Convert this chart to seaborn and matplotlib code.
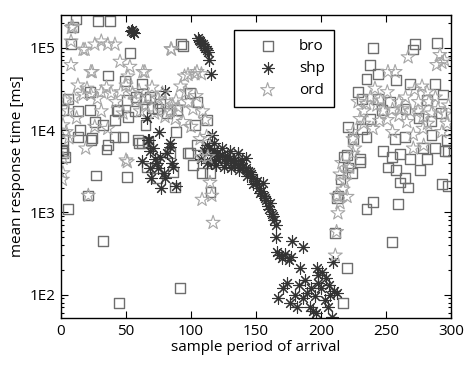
import numpy as np
import pandas as pd
import matplotlib
matplotlib.use("Agg")
import matplotlib.pyplot as plt
import seaborn as sns
from matplotlib.ticker import FixedLocator, FixedFormatter, LogLocator, NullFormatter

# ---------------- data ----------------
bro_x = [11.5, 28.5, 37.7, 9, 8, 53, 92, 94, 36, 49, 62, 22, 5.5, 1.5, 13, 22, 44, 41.5, 51.5, 57,
         64.5, 74.5, 65, 88.5, 14.6, 26, 23, 1.5, 1.5, 36, 41.5, 47.7, 59, 3, 67, 99, 105, 112, 103, 99,
         104.6, 101.5, 84, 62, 1.5, 35, 27, 51, 21, 5.5, 32, 44.6, 91.5, 66, 74, 86, 88, 98, 108.5, 114.6,
         115, 51, 58, 68.5, 76, 89, 81.5, 70, 43, 32, 24, 13, 1, 60,
         240, 272, 271, 289, 238, 244, 235, 258, 268.5, 287.7, 228.5, 231.5, 244, 281.5, 294, 247, 253, 238,
         221, 231.5, 224.6, 235, 257, 264.6, 285, 297, 295, 298, 220, 230, 247.7, 254.6, 261, 268.5, 278.5,
         287.7, 281.5, 251.5, 258, 276, 261, 267, 264.6, 293, 298, 240, 235, 259, 254.6, 220, 217, 213, 211,
         224, 218, 230, 212, 215, 221, 275, 285, 265, 292]
bro_y = [2.2e5, 2.1e5, 2.1e5, 1.8e5, 1.12e5, 8.6e4, 1.1e5, 1.05e5, 4.6e4, 3.9e4, 3.6e4, 2.9e4, 2.4e4, 1.77e4, 1.7e4, 1.77e4, 1.7e4, 1.33e4, 1.45e4, 1.7e4,
         2.4e4, 1.8e4, 1.15e4, 9.5e3, 1.0e4, 1.26e4, 7.6e3, 7.6e3, 5.8e3, 6.6e3, 8.3e3, 8.3e3, 7.6e3, 4.7e3, 7.2e3, 2.8e4, 2.2e4, 1.33e4, 1.15e4, 5.3e3,
         6.6e3, 3.8e3, 5.3e3, 7.0e3, 5.3e3, 5.8e3, 2.8e3, 2.7e3, 1.6e3, 1.1e3, 4.5e2, 7.9e1, 1.2e2, 3.5e3, 2.6e3, 3.1e3, 2.0e3, 5.3e3, 3.0e3, 3.0e3,
         1.75e3, 2.3e4, 2.5e4, 2.5e4, 2.1e4, 1.77e4, 1.6e4, 1.85e4, 1.77e4, 1.15e4, 8.0e3, 8.3e3, 5.5e3, 7.0e3,
         1.0e5, 1.1e5, 9.5e4, 1.15e5, 6.2e4, 4.8e4, 4.2e4, 4.1e4, 3.6e4, 3.6e4, 2.9e4, 2.4e4, 2.4e4, 2.3e4, 2.7e4, 1.77e4, 2.2e4, 1.37e4,
         1.1e4, 1.04e4, 7.8e3, 8.3e3, 7.8e3, 8.3e3, 8.8e3, 7.6e3, 5.5e3, 5.5e3, 5.0e3, 4.4e3, 5.5e3, 4.7e3, 5.1e3, 4.4e3, 6.0e3,
         6.0e3, 4.4e3, 3.5e3, 3.3e3, 3.3e3, 2.3e3, 2.0e3, 2.6e3, 2.2e3, 2.1e3, 1.35e3, 1.1e3, 1.27e3, 4.4e2, 2.1e2, 7.9e1, 1.6e3, 5.6e2,
         3.0e3, 4.7e3, 4.1e3, 1.5e3, 2.5e3, 3.5e3, 1.4e4, 1.3e4, 1.8e4, 1.6e4]

shp_x = [54, 55, 56, 54.5,
         105, 106, 107, 108, 109, 110, 111, 112, 113, 114, 115,
         80, 66, 75, 68, 84, 116, 118,
         68.5, 74.6, 86, 69, 80, 77, 88.5, 68.5, 76, 84, 81.5, 74, 67, 72, 79, 62, 71, 85,
         108, 110, 112, 114, 116, 118, 120, 122, 124, 126, 128, 130, 132, 134, 136, 138, 140, 142, 144,
         146, 148, 150, 152, 154, 156, 158, 160, 162, 164, 115, 121, 127, 133, 139, 145, 151, 157,
         112, 118, 124, 130, 136, 142, 119, 125, 131, 137, 143, 148, 153, 155, 159, 161, 163, 165,
         165.5, 178, 186, 166, 168, 170, 172, 175, 177, 174, 184, 167, 176, 181.5, 189, 191.5, 194, 198,
         198, 197, 209, 201, 204, 206, 210, 212, 205, 208.5, 171, 180, 183, 186, 188, 192, 195, 200, 203, 196, 207]
shp_y = [1.6e5, 1.55e5, 1.5e5, 1.65e5,
         1.3e5, 1.25e5, 1.2e5, 1.15e5, 1.1e5, 1.05e5, 1.0e5, 9.5e4, 9.0e4, 7.0e4, 4.8e4,
         3.0e4, 1.4e4, 9.6e3, 7.6e3, 7.0e3, 8.8e3, 7.0e3,
         3.5e3, 3.5e3, 3.6e3, 2.6e3, 2.6e3, 2.0e3, 2.1e3, 5.5e3, 4.7e3, 6.3e3, 5.3e3, 4.0e3, 7.6e3, 4.5e3, 3.0e3, 4.2e3, 6.0e3, 4.0e3,
         4.5e3, 5.5e3, 4.0e3, 6.0e3, 5.0e3, 4.2e3, 5.2e3, 4.8e3, 5.0e3, 4.5e3, 4.8e3, 4.6e3, 4.2e3, 4.0e3, 3.8e3, 3.9e3, 3.6e3, 3.5e3, 3.2e3,
         2.9e3, 2.6e3, 2.3e3, 2.0e3, 1.8e3, 1.6e3, 1.4e3, 1.1e3, 9.5e2, 8.0e2, 4.0e3, 4.4e3, 4.0e3, 4.2e3, 4.3e3, 3.1e3, 2.4e3, 1.5e3,
         6.5e3, 5.8e3, 6.0e3, 5.6e3, 5.2e3, 4.6e3, 3.8e3, 3.6e3, 3.5e3, 3.3e3, 2.8e3, 2.2e3, 1.7e3, 2.3e3, 1.2e3, 1.3e3, 9.0e2, 7.0e2,
         5.0e2, 4.5e2, 3.8e2, 3.3e2, 3.0e2, 2.8e2, 3.1e2, 2.6e2, 2.9e2, 1.4e2, 2.1e2, 9.0e1, 8.0e1, 7.0e1, 1.05e2, 7.0e1, 6.3e1, 1.75e2,
         1.4e2, 2.1e2, 2.5e2, 1.9e2, 1.6e2, 1.3e2, 1.1e2, 1.05e2, 7.0e1, 5.3e1, 1.2e2, 1.0e2, 1.3e2, 9.0e1, 1.5e2, 1.2e2, 9.5e1, 1.2e2, 8.5e1, 6.0e1, 1.0e2]

ord_x = [9, 8, 7.7, 18.5, 26, 31, 36, 41.5, 84.6, 7.7, 23, 45.4, 53, 51.5, 63, 95, 92, 13, 17, 23,
         31, 38.5, 46, 55, 57, 67, 74.6, 80, 86, 88.5, 96, 3, 5.4, 31, 47.7, 61, 72, 80, 88, 94,
         1.5, 36, 26, 4, 1.5, 50, 19, 1.5, 1, 51, 21, 108.5, 116, 117, 114.6, 113, 108, 103, 108, 101.5,
         109, 111, 107, 112, 10, 20, 28, 35, 42, 50, 60, 65, 70, 78, 84, 90, 98, 104, 100, 12,
         6, 24, 64.5, 97.7, 104.6, 85, 17,
         267, 291.5, 289, 295, 251.5, 257, 241.5, 251, 272, 277.7, 281.5, 228.5, 235, 243, 247.7, 255, 262,
         268.5, 274.6, 278.5, 285, 290, 295.4, 230, 251, 266, 224.6, 240, 255, 271, 278.5, 293, 224.6, 271,
         224.6, 214.6, 220, 217, 212, 220, 214.6, 213, 212, 211, 216, 222, 218, 226, 233, 238, 260, 265,
         283, 288, 298, 297, 260, 245, 282, 275, 246, 233, 293, 279]
ord_y = [1.8e5, 1.75e5, 1.2e5, 9.5e4, 1.1e5, 1.2e5, 1.1e5, 1.1e5, 9.7e4, 6.2e4, 5.1e4, 6.8e4, 5.9e4, 4.5e4, 5.1e4, 4.5e4, 3.4e4, 3.5e4, 2.7e4, 2.7e4,
         2.9e4, 2.8e4, 2.9e4, 2.8e4, 2.3e4, 2.5e4, 2.4e4, 2.2e4, 2.0e4, 2.3e4, 2.9e4, 2.3e4, 1.7e4, 1.7e4, 1.6e4, 1.7e4, 1.6e4, 1.45e4, 1.37e4, 1.26e4,
         1.15e4, 1.04e4, 1.1e4, 9.5e3, 4.5e3, 4.3e3, 6.0e3, 3.0e3, 2.5e3, 4.1e3, 1.6e3, 1.43e3, 1.6e3, 7.5e2, 2.3e3, 4.7e3, 4.7e3, 4.8e4, 4.8e4, 1.8e4,
         1.7e4, 1.33e4, 7.8e3, 8.3e3, 2.5e4, 3.2e4, 2.4e4, 3.3e4, 2.2e4, 3.5e4, 3.0e4, 2.0e4, 3.3e4, 2.8e4, 1.7e4, 1.9e4, 2.2e4, 2.6e4, 1.1e4, 1.4e4,
         8.0e3, 5.1e4, 5.1e4, 4.7e4, 5.1e4, 9.5e4, 9.5e4,
         7.7e4, 8.2e4, 6.2e4, 7.1e4, 5.1e4, 5.1e4, 3.2e4, 2.9e4, 3.1e4, 3.4e4, 2.9e4, 2.2e4, 2.1e4, 2.0e4, 1.7e4, 1.77e4, 1.8e4,
         1.7e4, 1.7e4, 1.45e4, 1.6e4, 1.8e4, 1.55e4, 1.37e4, 1.33e4, 1.26e4, 9.5e3, 1.04e4, 9.5e3, 8.8e3, 1.04e4, 9.5e3, 7.8e3, 6.0e3,
         5.2e3, 2.9e3, 3.0e3, 1.9e3, 1.6e3, 1.55e3, 1.3e3, 9.8e2, 5.8e2, 3.0e2, 4.0e3, 3.5e3, 2.4e3, 6.0e3, 1.2e4, 2.5e4, 2.2e4, 2.5e4,
         2.2e4, 2.5e4, 2.0e4, 1.2e4, 1.5e4, 1.3e4, 1.2e4, 2.2e4, 2.3e4, 1.7e4, 6.6e4, 6.5e3]

series_names = ["bro", "shp", "ord"]
x_ticks = [0, 50, 100, 150, 200, 250, 300]
y_ticks = [1e2, 1e3, 1e4, 1e5]
y_tick_labels = ["1E2", "1E3", "1E4", "1E5"]

# ---------------- style ----------------
sns.set_style("ticks")
plt.rcParams["font.family"] = ["Open Sans", "DejaVu Sans"]
plt.rcParams["text.color"] = "black"
plt.rcParams["axes.labelcolor"] = "black"
plt.rcParams["xtick.color"] = "black"
plt.rcParams["ytick.color"] = "black"

fig = plt.figure(figsize=(4.67, 3.69), dpi=100)
ax = fig.add_axes([61 / 467, 1 - 318 / 369, 390 / 467, 303 / 369])

df_bro = pd.DataFrame({"x": bro_x, "y": bro_y})
df_shp = pd.DataFrame({"x": shp_x, "y": shp_y})
df_ord = pd.DataFrame({"x": ord_x, "y": ord_y})

sns.scatterplot(data=df_bro, x="x", y="y", ax=ax, marker="s", s=50,
                facecolors="none", edgecolor="#6e6e6e", linewidth=1.0, label=series_names[0])
sns.scatterplot(data=df_shp, x="x", y="y", ax=ax, marker=(8, 2, 0), s=70,
                color="#333333", edgecolor="#333333", linewidth=0.8, label=series_names[1])
sns.scatterplot(data=df_ord, x="x", y="y", ax=ax, marker="*", s=110,
                facecolors="none", edgecolor="#a6a6a6", linewidth=0.8, label=series_names[2])

ax.set_yscale("log")
ax.set_xlim(0, 300)
ax.set_ylim(52, 2.5e5)
ax.xaxis.set_major_locator(FixedLocator(x_ticks))
ax.set_xticklabels([str(t) for t in x_ticks])
ax.yaxis.set_major_locator(FixedLocator(y_ticks))
ax.yaxis.set_major_formatter(FixedFormatter(y_tick_labels))
ax.yaxis.set_minor_locator(LogLocator(base=10, subs=np.arange(2, 10)))
ax.yaxis.set_minor_formatter(NullFormatter())

ax.set_xlabel("sample period of arrival", fontsize=11, labelpad=1, color="black")
ax.set_ylabel("mean response time [ms]", fontsize=11, labelpad=3, color="black")

for sp in ax.spines.values():
    sp.set_visible(True)
    sp.set_color("black")
    sp.set_linewidth(1.0)
ax.tick_params(which="both", direction="in", top=True, right=True, colors="black",
               labelcolor="black", labelsize=11, width=0.8)
ax.tick_params(which="major", length=5, pad=4)
ax.tick_params(which="minor", length=2.5)

leg = ax.legend(loc="upper left", bbox_to_anchor=((234 - 61) / 390, (318 - 30) / 303),
                frameon=True, fancybox=False, edgecolor="black", framealpha=1,
                fontsize=11, handlelength=3.2, handletextpad=0.45, borderpad=0.6,
                labelspacing=0.45, borderaxespad=0)
leg.get_frame().set_linewidth(1.0)
for t in leg.get_texts():
    t.set_color("black")

fig.savefig("out.png", dpi=100)
